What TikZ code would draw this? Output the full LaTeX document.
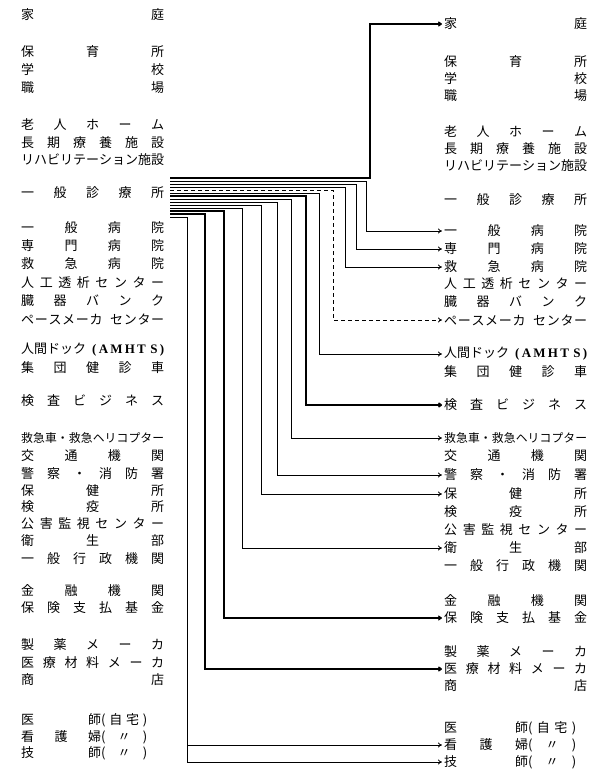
\documentclass[tikz,border=0pt]{standalone}
\usepackage{fontspec}
\newfontfamily\jpfont{Noto Sans CJK JP}
\newfontfamily\latfont{Liberation Serif}
\usetikzlibrary{arrows.meta}
\newcommand\rowbox[1]{\hbox to 143pt{#1}}
\newcommand\namebox[2]{\hbox to #1{#2}}
\newcommand\amhts{{\latfont\bfseries (\hfill A\hfill M\hfill H\hfill T\hfill\hfill S\hfill )}}
\newcommand\ambul{\fontsize{11.8}{14}\selectfont 救\hfill 急\hfill 車\hfill ・\hfill 救\hfill 急\hfill ヘ\hfill リ\hfill コ\hfill プ\hfill タ\hfill ー}
\begin{document}
\begin{tikzpicture}[x=1pt,y=-1pt,
  txt/.style={anchor=west,inner sep=0pt,font=\jpfont\fontsize{13}{15}\selectfont},
  ln/.style={line width=0.8pt},
  arr/.style={ln,-{To[length=4pt,width=5pt]},shorten >=2pt},
  dsh/.style={dash pattern=on 4pt off 3pt}]
\useasboundingbox[fill=white] (0,0) rectangle (599,771);

% ---------------- left column ----------------
\node[txt] (L1)  at (21,15)  {\rowbox{家\hfill 庭}};
\node[txt] (L2)  at (21,52)  {\rowbox{保\hfill 育\hfill 所}};
\node[txt] (L3)  at (21,70)  {\rowbox{学\hfill 校}};
\node[txt] (L4)  at (21,88)  {\rowbox{職\hfill 場}};
\node[txt] (L5)  at (21,125) {\rowbox{老\hfill 人\hfill ホ\hfill ー\hfill ム}};
\node[txt] (L6)  at (21,143) {\rowbox{長\hfill 期\hfill 療\hfill 養\hfill 施\hfill 設}};
\node[txt] (L7)  at (21,160) {\rowbox{リ\hfill ハ\hfill ビ\hfill リ\hfill テ\hfill ー\hfill シ\hfill ョ\hfill ン\hfill 施\hfill 設}};
\node[txt] (L8)  at (21,193) {\rowbox{一\hfill 般\hfill 診\hfill 療\hfill 所}};
\node[txt] (L9)  at (21,228) {\rowbox{一\hfill 般\hfill 病\hfill 院}};
\node[txt] (L10) at (21,246) {\rowbox{専\hfill 門\hfill 病\hfill 院}};
\node[txt] (L11) at (21,264) {\rowbox{救\hfill 急\hfill 病\hfill 院}};
\node[txt] (L12) at (21,283) {\rowbox{人\hfill 工\hfill 透\hfill 析\hfill セ\hfill ン\hfill タ\hfill ー}};
\node[txt] (L13) at (21,301) {\rowbox{臓\hfill 器\hfill バ\hfill ン\hfill ク}};
\node[txt] (L14) at (21,319) {\rowbox{ペ\hfill ー\hfill ス\hfill メ\hfill ー\hfill カ\hskip 7pt\hfill セ\hfill ン\hfill タ\hfill ー}};
\node[txt] (L15) at (21,350) {\rowbox{人間ドック\hskip 6pt\amhts}};
\node[txt] (L16) at (21,368) {\rowbox{集\hfill 団\hfill 健\hfill 診\hfill 車}};
\node[txt] (L17) at (21,401) {\rowbox{検\hfill 査\hfill ビ\hfill ジ\hfill ネ\hfill ス}};
\node[txt] (L18) at (21,438) {\rowbox{\ambul}};
\node[txt] (L19) at (21,456) {\rowbox{交\hfill 通\hfill 機\hfill 関}};
\node[txt] (L20) at (21,474) {\rowbox{警\hfill 察\hfill ・\hfill 消\hfill 防\hfill 署}};
\node[txt] (L21) at (21,491) {\rowbox{保\hfill 健\hfill 所}};
\node[txt] (L22) at (21,507) {\rowbox{検\hfill 疫\hfill 所}};
\node[txt] (L23) at (21,524) {\rowbox{公\hfill 害\hfill 監\hfill 視\hfill セ\hfill ン\hfill タ\hfill ー}};
\node[txt] (L24) at (21,541) {\rowbox{衛\hfill 生\hfill 部}};
\node[txt] (L25) at (21,559) {\rowbox{一\hfill 般\hfill 行\hfill 政\hfill 機\hfill 関}};
\node[txt] (L26) at (21,591) {\rowbox{金\hfill 融\hfill 機\hfill 関}};
\node[txt] (L27) at (21,608) {\rowbox{保\hfill 険\hfill 支\hfill 払\hfill 基\hfill 金}};
\node[txt] (L28) at (21,645) {\rowbox{製\hfill 薬\hfill メ\hfill ー\hfill カ}};
\node[txt] (L29) at (21,663) {\rowbox{医\hfill 療\hfill 材\hfill 料\hfill メ\hfill ー\hfill カ}};
\node[txt] (L30) at (21,680) {\rowbox{商\hfill 店}};
\node[txt] (L31) at (21,720) {\namebox{80pt}{医\hfill 師}\namebox{46pt}{(\hfill 自\hfill 宅\hfill )}};
\node[txt] (L32) at (21,737) {\namebox{80pt}{看\hfill 護\hfill 婦}\namebox{46pt}{(\hfill 〃\hfill )}};
\node[txt] (L33) at (21,753) {\namebox{80pt}{技\hfill 師}\namebox{46pt}{(\hfill 〃\hfill )}};

% ---------------- right column ----------------
\node[txt] (R1)  at (444,24)  {\rowbox{家\hfill 庭}};
\node[txt] (R2)  at (444,62)  {\rowbox{保\hfill 育\hfill 所}};
\node[txt] (R3)  at (444,79)  {\rowbox{学\hfill 校}};
\node[txt] (R4)  at (444,96)  {\rowbox{職\hfill 場}};
\node[txt] (R5)  at (444,132) {\rowbox{老\hfill 人\hfill ホ\hfill ー\hfill ム}};
\node[txt] (R6)  at (444,149) {\rowbox{長\hfill 期\hfill 療\hfill 養\hfill 施\hfill 設}};
\node[txt] (R7)  at (444,166) {\rowbox{リ\hfill ハ\hfill ビ\hfill リ\hfill テ\hfill ー\hfill シ\hfill ョ\hfill ン\hfill 施\hfill 設}};
\node[txt] (R8)  at (444,200) {\rowbox{一\hfill 般\hfill 診\hfill 療\hfill 所}};
\node[txt] (R9)  at (444,231) {\rowbox{一\hfill 般\hfill 病\hfill 院}};
\node[txt] (R10) at (444,249) {\rowbox{専\hfill 門\hfill 病\hfill 院}};
\node[txt] (R11) at (444,267) {\rowbox{救\hfill 急\hfill 病\hfill 院}};
\node[txt] (R12) at (444,284) {\rowbox{人\hfill 工\hfill 透\hfill 析\hfill セ\hfill ン\hfill タ\hfill ー}};
\node[txt] (R13) at (444,302) {\rowbox{臓\hfill 器\hfill バ\hfill ン\hfill ク}};
\node[txt] (R14) at (444,320) {\rowbox{ペ\hfill ー\hfill ス\hfill メ\hfill ー\hfill カ\hskip 7pt\hfill セ\hfill ン\hfill タ\hfill ー}};
\node[txt] (R15) at (444,354) {\rowbox{人間ドック\hskip 6pt\amhts}};
\node[txt] (R16) at (444,372) {\rowbox{集\hfill 団\hfill 健\hfill 診\hfill 車}};
\node[txt] (R17) at (444,405) {\rowbox{検\hfill 査\hfill ビ\hfill ジ\hfill ネ\hfill ス}};
\node[txt] (R18) at (444,438) {\rowbox{\ambul}};
\node[txt] (R19) at (444,456) {\rowbox{交\hfill 通\hfill 機\hfill 関}};
\node[txt] (R20) at (444,475) {\rowbox{警\hfill 察\hfill ・\hfill 消\hfill 防\hfill 署}};
\node[txt] (R21) at (444,494) {\rowbox{保\hfill 健\hfill 所}};
\node[txt] (R22) at (444,512) {\rowbox{検\hfill 疫\hfill 所}};
\node[txt] (R23) at (444,530) {\rowbox{公\hfill 害\hfill 監\hfill 視\hfill セ\hfill ン\hfill タ\hfill ー}};
\node[txt] (R24) at (444,548) {\rowbox{衛\hfill 生\hfill 部}};
\node[txt] (R25) at (444,566) {\rowbox{一\hfill 般\hfill 行\hfill 政\hfill 機\hfill 関}};
\node[txt] (R26) at (444,601) {\rowbox{金\hfill 融\hfill 機\hfill 関}};
\node[txt] (R27) at (444,618) {\rowbox{保\hfill 険\hfill 支\hfill 払\hfill 基\hfill 金}};
\node[txt] (R28) at (444,652) {\rowbox{製\hfill 薬\hfill メ\hfill ー\hfill カ}};
\node[txt] (R29) at (444,669) {\rowbox{医\hfill 療\hfill 材\hfill 料\hfill メ\hfill ー\hfill カ}};
\node[txt] (R30) at (444,686) {\rowbox{商\hfill 店}};
\node[txt] (R31) at (444,728) {\namebox{84pt}{医\hfill 師}\namebox{48pt}{(\hfill 自\hfill 宅\hfill )}};
\node[txt] (R32) at (444,745) {\namebox{84pt}{看\hfill 護\hfill 婦}\namebox{48pt}{(\hfill 〃\hfill )}};
\node[txt] (R33) at (444,762) {\namebox{84pt}{技\hfill 師}\namebox{48pt}{(\hfill 〃\hfill )}};

% ---------------- bundle start points and turning columns ----------------
\foreach \i in {0,...,13} {\coordinate (b\i) at (170,178+3*\i);}
\coordinate (v0)  at (370,0);
\coordinate (v1)  at (366,0);
\coordinate (v2)  at (356,0);
\coordinate (v3)  at (345,0);
\coordinate (v4)  at (333,0);
\coordinate (v5)  at (319,0);
\coordinate (v6)  at (306,0);
\coordinate (v7)  at (291,0);
\coordinate (v8)  at (277,0);
\coordinate (v9)  at (261,0);
\coordinate (v10) at (242,0);
\coordinate (v11) at (224,0);
\coordinate (v12) at (205,0);
\coordinate (v13) at (187,0);

% ---------------- connectors ----------------
\draw[arr,line width=1.2pt] (b0) -| (v0 |- R1.west) -- (R1.west);
\draw[arr] (b1) -| (v1 |- R9.west) -- (R9.west);
\draw[arr] (b2) -| (v2 |- R10.west) -- (R10.west);
\draw[arr] (b3) -| (v3 |- R11.west) -- (R11.west);
\draw[arr,dsh] (b4) -| (v4 |- R14.west) -- (R14.west);
\draw[arr] (b5) -| (v5 |- R15.west) -- (R15.west);
\draw[arr,line width=1.8pt] (b6) -| (v6 |- R17.west) -- (R17.west);
\draw[arr] (b7) -| (v7 |- R18.west) -- (R18.west);
\draw[arr] (b8) -| (v8 |- R20.west) -- (R20.west);
\draw[arr] (b9) -| (v9 |- R21.west) -- (R21.west);
\draw[arr] (b10) -| (v10 |- R24.west) -- (R24.west);
\draw[arr,line width=1.1pt] (b11) -| (v11 |- R27.west) -- (R27.west);
\draw[arr,line width=1.5pt] (b12) -| (v12 |- R29.west) -- (R29.west);
\draw[arr] (b13) -| (v13 |- R33.west) -- (R33.west);
\draw[arr] (v13 |- R32.west) -- (R32.west);
\end{tikzpicture}
\end{document}
